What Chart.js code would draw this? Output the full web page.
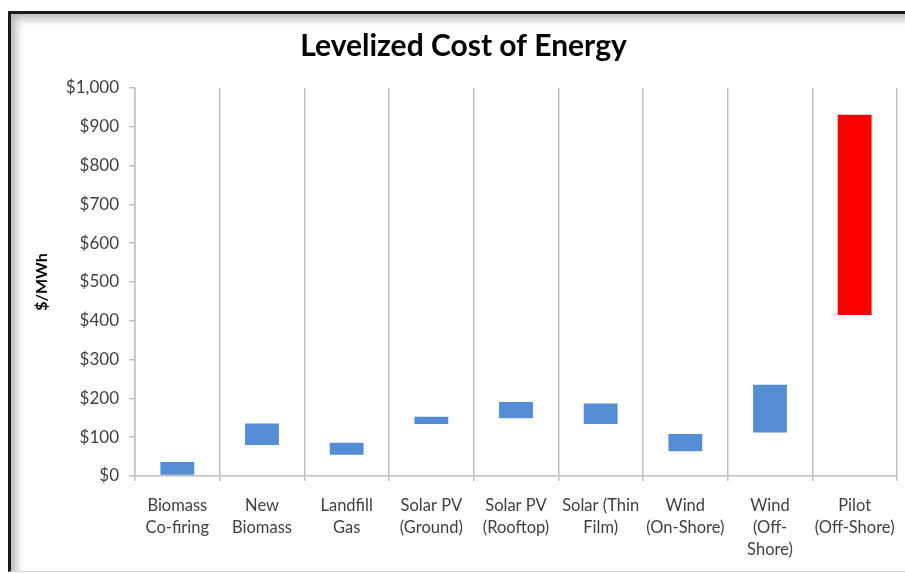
<!DOCTYPE html>
<html>
<head>
<meta charset="utf-8">
<script src="https://cdn.jsdelivr.net/npm/chart.js@4/dist/chart.umd.min.js"></script>
<style>
  html, body { margin: 0; padding: 0; background: #fff; }
  #wrap { position: relative; width: 905px; height: 573px; overflow: hidden; }
  #chart { position: absolute; left: 0; top: 0; }
  #frame {
    position: absolute; left: 8px; top: 11px; width: 897px; height: 561px;
    box-sizing: border-box;
    border-left: 3px solid #1a1a1a; border-top: 3px solid #1a1a1a;
    border-bottom: 1px solid #d8d8d8;
    box-shadow: inset 7px 7px 9px -2px rgba(0,0,0,0.28);
    pointer-events: none;
  }
</style>
</head>
<body>
<div id="wrap">
  <canvas id="chart" width="905" height="573"></canvas>
  <div id="frame"></div>
</div>
<script>
const categories = [
  ["Biomass", "Co-firing"], ["New", "Biomass"], ["Landfill", "Gas"],
  ["Solar PV", "(Ground)"], ["Solar PV", "(Rooftop)"], ["Solar (Thin", "Film)"],
  ["Wind", "(On-Shore)"], ["Wind", "(Off-", "Shore)"], ["Pilot", "(Off-Shore)"]
];
const lowCost = [3, 80, 55, 134, 149, 134, 64, 112, 415];
const highCost = [36, 135, 86, 153, 191, 187, 108, 235, 931];
const yTicks = [0, 100, 200, 300, 400, 500, 600, 700, 800, 900, 1000];

const blue = "#558ED5";
const red = "#FF0000";
const grey = "#bfbfbf";
const font = "Lato, 'Open Sans', sans-serif";

const ranges = lowCost.map((lo, i) => [lo, highCost[i]]);
const colors = categories.map((c, i) => i === categories.length - 1 ? red : blue);

const ctx = document.getElementById("chart").getContext("2d");
new Chart(ctx, {
  type: "bar",
  data: {
    labels: categories,
    datasets: [{
      data: ranges,
      backgroundColor: colors,
      borderWidth: 0,
      borderSkipped: false,
      categoryPercentage: 0.8,
      barPercentage: 0.5
    }]
  },
  options: {
    responsive: false,
    animation: false,
    devicePixelRatio: 1,
    // left padding keeps the title centred where the original has it
    layout: { padding: { left: 30, right: 8, top: 0, bottom: 0 } },
    plugins: {
      legend: { display: false },
      tooltip: { enabled: false },
      title: {
        display: true,
        text: "Levelized Cost of Energy",
        color: "#000",
        font: { family: font, size: 30, weight: "bold", lineHeight: 1.2 },
        padding: { top: 28, bottom: 24 }
      }
    },
    scales: {
      x: {
        grid: { offset: true, color: grey, lineWidth: 1.5, tickLength: 5 },
        border: { color: grey, width: 1.5 },
        ticks: {
          color: "#404040",
          font: { family: font, size: 16.5, lineHeight: 1.33 },
          padding: 14,
          maxRotation: 0,
          autoSkip: false
        },
        afterFit: s => {
          s.height = 97;
          s.paddingRight = 0;
        }
      },
      y: {
        min: 0,
        max: 1000,
        afterBuildTicks: s => { s.ticks = yTicks.map(v => ({ value: v })); },
        grid: { drawOnChartArea: false, color: grey, lineWidth: 1.5, tickLength: 6 },
        border: { color: grey, width: 1.5 },
        ticks: {
          color: "#404040",
          font: { family: font, size: 17 },
          padding: 10,
          callback: v => "$" + v.toLocaleString("en-US")
        },
        title: {
          display: true,
          text: "$/MWh",
          color: "#000",
          font: { family: font, size: 16, weight: "bold", lineHeight: 1.2 },
          padding: { top: 2 }
        },
        afterFit: s => { s.width = 105; }
      }
    }
  }
});
</script>
</body>
</html>
